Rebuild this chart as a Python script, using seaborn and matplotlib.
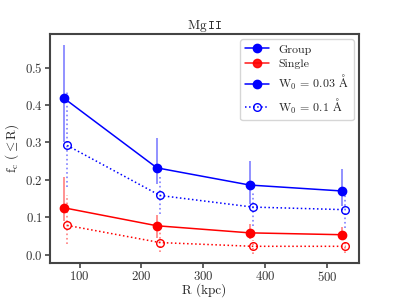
import numpy as np
import pandas as pd
import matplotlib
matplotlib.use("Agg")
import matplotlib.pyplot as plt
import seaborn as sns
from matplotlib.lines import Line2D

# Data
radius = [75, 225, 375, 525]
radius_shift = [80, 230, 380, 530]

group_03 = [0.418, 0.232, 0.186, 0.170]
group_03_hi = [0.560, 0.311, 0.250, 0.230]
group_03_lo = [0.300, 0.190, 0.135, 0.130]

group_10 = [0.292, 0.158, 0.127, 0.120]
group_10_hi = [0.436, 0.210, 0.170, 0.165]
group_10_lo = [0.180, 0.108, 0.077, 0.072]

single_03 = [0.125, 0.077, 0.058, 0.053]
single_03_hi = [0.208, 0.107, 0.082, 0.074]
single_03_lo = [0.090, 0.045, 0.041, 0.044]

single_10 = [0.078, 0.032, 0.022, 0.022]
single_10_hi = [0.160, 0.060, 0.040, 0.040]
single_10_lo = [0.027, 0.008, 0.001, 0.005]

sns.set_style("ticks")
plt.rcParams['font.family'] = 'serif'
plt.rcParams['font.serif'] = ['cmr10', 'DejaVu Serif']
plt.rcParams['mathtext.fontset'] = 'cm'
plt.rcParams['axes.formatter.use_mathtext'] = True
plt.rcParams['font.size'] = 9.5

fig, ax = plt.subplots(figsize=(3.99, 2.99), dpi=100)

series = [
    (radius, group_03, group_03_lo, group_03_hi, 'blue', '-', 'blue'),
    (radius_shift, group_10, group_10_lo, group_10_hi, 'blue', ':', 'none'),
    (radius, single_03, single_03_lo, single_03_hi, 'red', '-', 'red'),
    (radius_shift, single_10, single_10_lo, single_10_hi, 'red', ':', 'none'),
]

for x, y, lo, hi, col, ls, fc in series:
    ax.vlines(x, lo, hi, colors=col, linestyles=ls, alpha=0.5, lw=1.2, zorder=1)
    df = pd.DataFrame({'R': x, 'f': y})
    sns.lineplot(data=df, x='R', y='f', ax=ax, color=col, linestyle=ls, lw=1.1,
                 marker='o', markersize=6 if fc != 'none' else 5.5,
                 markerfacecolor=fc, markeredgecolor=col, markeredgewidth=1.0,
                 zorder=3)

handles = [
    Line2D([], [], color='blue', marker='o', ms=6, lw=1.1),
    Line2D([], [], color='red', marker='o', ms=6, lw=1.1, alpha=0.9),
    Line2D([], [], color='blue', marker='o', ms=6, lw=1.1),
    Line2D([], [], color='blue', marker='o', ms=5.5, lw=1.1, ls=':', mfc='none'),
]
labels = ['Group', 'Single', r'W$_0$ = 0.03 $\rm\AA$', r'W$_0$ = 0.1 $\rm\AA$']
ax.legend(handles, labels, loc='upper right', fontsize=8.6, frameon=True,
          edgecolor='#cccccc', fancybox=True, borderpad=0.4, labelspacing=0.35,
          handlelength=2.0, handletextpad=0.8, borderaxespad=0.45)

ax.set_xlim(52, 552)
ax.set_ylim(-0.023, 0.59)
ax.set_xticks([100, 200, 300, 400, 500])
ax.set_yticks([0.0, 0.1, 0.2, 0.3, 0.4, 0.5])
ax.set_xlabel('R (kpc)')
ax.xaxis.set_label_coords(0.5, -0.088)
ax.set_ylabel(r'f$_{\rm c}$ ($\leq$R)', labelpad=3)
ax.set_title(r'Mg$\,\mathtt{II}$', fontsize=9.5, pad=3)

for sp in ax.spines.values():
    sp.set_color('#444444')
    sp.set_linewidth(1.5)
ax.tick_params(direction='out', length=3.5, width=1.2, pad=1.5, labelsize=9.2,
               color='#444444', labelcolor='#333333')

fig.subplots_adjust(left=0.125, right=0.9, top=0.886, bottom=0.12)
fig.savefig('out.png', dpi=100)
